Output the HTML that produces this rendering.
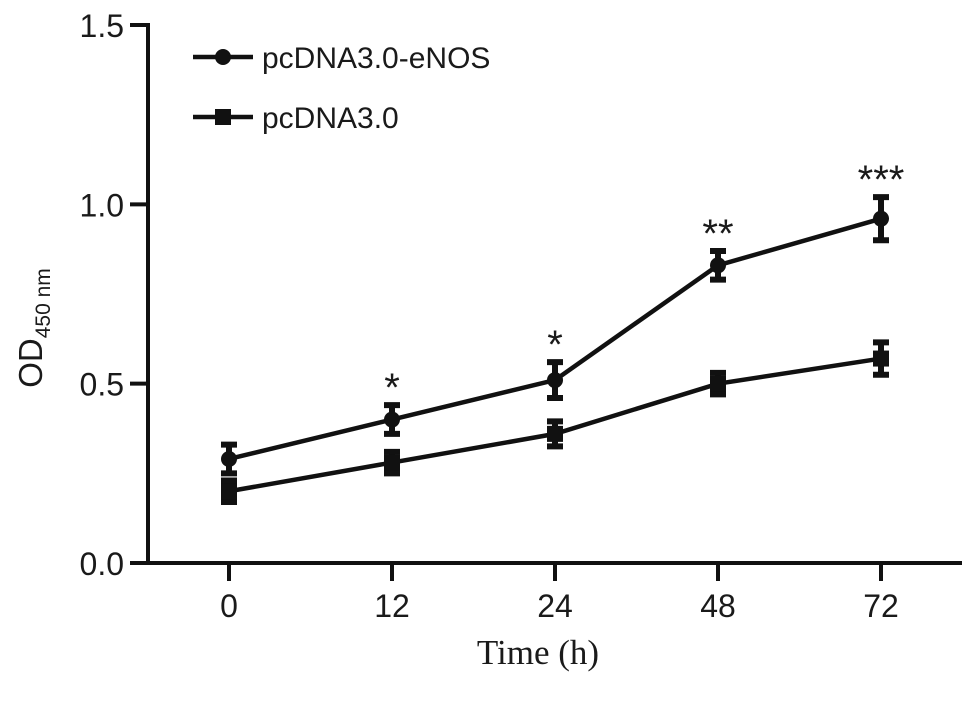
<!DOCTYPE html>
<html><head><meta charset="utf-8"><style>
html,body{margin:0;padding:0;background:#fff;}
svg{display:block;}
text{font-family:"Liberation Sans",Arial,sans-serif;fill:#1a1a1a;}
</style></head><body>
<svg id="chart" width="969" height="705" viewBox="0 0 969 705"></svg>
<script>
const categories = ["0","12","24","48","72"];
const enosValues = [0.29,0.40,0.51,0.83,0.96];
const enosErrors = [0.04,0.04,0.05,0.04,0.06];
const pcValues = [0.20,0.28,0.36,0.50,0.57];
const pcErrors = [0.03,0.03,0.035,0.03,0.045];
const yTicks = [0,0.5,1.0,1.5];
const yTickLabels = ["0.0","0.5","1.0","1.5"];
const sigLabels = ["","*","*","**","***"];

const NS="http://www.w3.org/2000/svg";
const svg=document.getElementById('chart');
const x0=148,yBase=563,yTop=25;
function yS(v){return yBase-(v/1.5)*(yBase-yTop);}
function xS(i){return 229+i*163;}
function mk(t,a,p){const e=document.createElementNS(NS,t);for(const k in a)e.setAttribute(k,a[k]);(p||svg).appendChild(e);return e;}

const axes=mk('g',{});


const ya=mk('line',{x1:x0,y1:yTop-2,x2:x0,y2:yBase+2,stroke:'#111','stroke-width':4},axes);


const xa=mk('line',{x1:x0-2,y1:yBase,x2:962,y2:yBase,stroke:'#111','stroke-width':4},axes);


yTicks.forEach((v,i)=>{
  const y=yS(v);
  const t=mk('line',{x1:x0-18,y1:y,x2:x0,y2:y,stroke:'#111','stroke-width':4},axes);
  
  
  const l=mk('text',{x:x0-24,y:y+12,'text-anchor':'end','font-size':32},axes);
  l.textContent=yTickLabels[i];
  
  
});
categories.forEach((c,i)=>{
  const x=xS(i);
  const t=mk('line',{x1:x,y1:yBase,x2:x,y2:yBase+18,stroke:'#111','stroke-width':4},axes);
  
  
  const l=mk('text',{x:x,y:yBase+54,'text-anchor':'middle','font-size':32},axes);
  l.textContent=c;
  
  
});
const xt=mk('text',{x:538,y:664,'text-anchor':'middle','font-size':35,style:'font-family:"Liberation Serif",serif'});
xt.textContent='Time (h)';


const yt=mk('text',{transform:'translate(42,328) rotate(-90)','text-anchor':'middle','font-size':33});
yt.innerHTML='OD<tspan font-size="21" dy="8">450 nm</tspan>';



function series(vals,errs,shape,name){
  const g=mk('g',{});
  
  
  const pts=vals.map((v,i)=>xS(i)+','+yS(v)).join(' ');
  const pl=mk('polyline',{points:pts,fill:'none',stroke:'#111','stroke-width':4.5},g);
  
  
  vals.forEach((v,i)=>{
    const x=xS(i),yh=yS(v+errs[i]),yl=yS(v-errs[i]);
    const eb=mk('path',{d:`M${x},${yh}V${yl}M${x-8},${yh}H${x+8}M${x-8},${yl}H${x+8}`,stroke:'#111','stroke-width':6,fill:'none'},g);
    
    
    let m;
    if(shape==='circle')m=mk('circle',{cx:x,cy:yS(v),r:8,fill:'#111'},g);
    else m=mk('rect',{x:x-8,y:yS(v)-8,width:16,height:16,fill:'#111'},g);
    
    
  });
}
series(pcValues,pcErrors,'square','pcdna3-series');
series(enosValues,enosErrors,'circle','enos-series');

sigLabels.forEach((s,i)=>{
  if(!s)return;
  const t=mk('text',{x:xS(i),y:yS(enosValues[i]+enosErrors[i])-4,'text-anchor':'middle','font-size':40});
  t.textContent=s;
  
  
});

const lg=mk('g',{});


[['pcDNA3.0-eNOS','circle',57],['pcDNA3.0','square',117]].forEach(([lab,sh,y])=>{
  const e=mk('g',{},lg);
  
  
  mk('line',{x1:193,y1:y,x2:253,y2:y,stroke:'#111','stroke-width':4.5},e);
  if(sh==='circle')mk('circle',{cx:223,cy:y,r:8,fill:'#111'},e);
  else mk('rect',{x:215,y:y-8,width:16,height:16,fill:'#111'},e);
  const t=mk('text',{x:262,y:y+11,'font-size':30},e);
  t.textContent=lab;
});
</script>
</body></html>
